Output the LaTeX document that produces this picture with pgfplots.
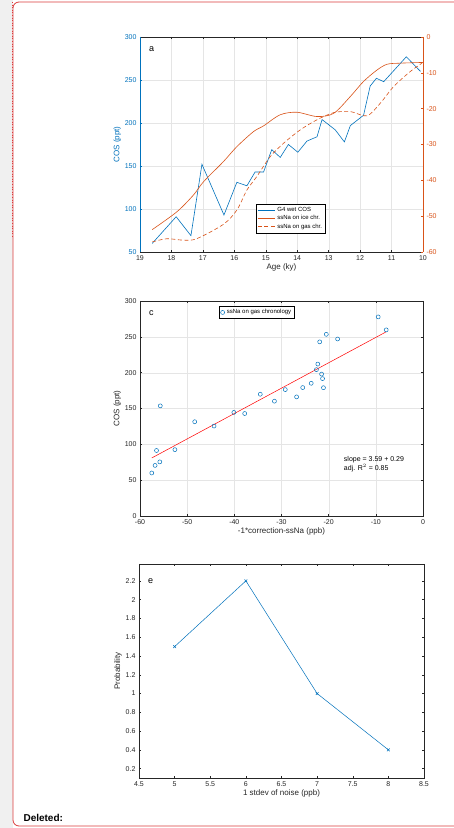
\documentclass[border=0pt]{standalone}
\usepackage{fontspec}
\setmainfont{Liberation Sans}
\usepackage{pgfplots}
\pgfplotsset{compat=1.18}
\definecolor{mblue}{RGB}{0,114,189}
\definecolor{morange}{RGB}{217,83,25}
\definecolor{mgray}{RGB}{38,38,38}
\definecolor{framered}{RGB}{220,60,60}
\begin{document}
\begin{tikzpicture}
\useasboundingbox (0pt,0pt) rectangle (454pt,828pt);
\fill[white] (0pt,0pt) rectangle (454pt,828pt);
\fill[gray!12] (0pt,0pt) rectangle (13pt,828pt);
\draw[framered,line width=0.8pt,rounded corners=6pt] (13pt,2pt) rectangle (470pt,826pt);
\draw[framered,dotted,line width=0.6pt] (12pt,826pt) -- (12pt,590pt);
\node[anchor=west,font=\bfseries\fontsize{10}{12}\selectfont] at (20pt,10pt) {Deleted:};
\pgfplotsset{
  every axis/.append style={scale only axis,width=283pt,height=215pt,
    tick label style={font=\fontsize{7}{8}\selectfont,text=mgray},
    label style={font=\fontsize{8}{9}\selectfont,text=mgray},
    /pgf/number format/assume math mode=true,
    tick align=inside, major tick length=2pt, axis line style={mgray,line width=0.4pt},
    tick style={mgray,line width=0.4pt}},
}
% panel a
\begin{axis}[at={(140pt,576pt)},anchor=south west,
  x dir=reverse, xmin=10, xmax=19, ymin=50, ymax=300,
  xtick={10,...,19}, ytick={50,100,...,300},
  grid=major, grid style={gray!20,line width=0.3pt},
  axis y line*=left, axis x line*=box,
  y axis line style={mblue}, ytick style={mblue},
  yticklabel style={text=mblue},
  xlabel={Age (ky)}, ylabel={COS (ppt)}, ylabel style={text=mblue},
  xlabel style={yshift=4pt}, ylabel style={yshift=-3pt}]
\addplot[mblue,line width=0.6pt] coordinates {
(18.61,60)(17.85,91)(17.38,69)(17.03,152)(16.33,93)(15.92,131)(15.6,127)(15.34,143)(15.07,143)(14.81,169)(14.54,160)(14.28,175)(13.98,166)(13.69,179)(13.37,184)(13.21,204)(12.79,192)(12.5,178)(12.31,197)(11.89,209)(11.68,243)(11.48,252)(11.25,248)(10.53,277)(10.08,260)};
\node[anchor=north west,font=\fontsize{9}{10}\selectfont] at (rel axis cs:0.02,0.97) {a};
\end{axis}
\begin{axis}[at={(140pt,576pt)},anchor=south west,
  x dir=reverse, xmin=10, xmax=19, ymin=-60, ymax=0,
  axis y line*=right, axis x line=none,
  ytick={-60,-50,...,0},
  y axis line style={morange}, ytick style={morange},
  yticklabel style={text=morange},
  legend style={at={(rel axis cs:0.41,0.225)},anchor=north west,
    font=\fontsize{6}{7}\selectfont,line width=0.3pt,
    row sep=-1.5pt, inner sep=1.5pt},
  legend cell align=left]
\addlegendimage{mblue,line width=0.6pt}\addlegendentry{G4 wet COS}
\addplot[morange,line width=0.6pt,smooth] coordinates {
(18.61,-53.75)(17.83,-48.8)(17.3,-44.1)(16.98,-40.4)(16.35,-34.8)(15.92,-30.6)(15.39,-26.4)(15.07,-24.8)(14.54,-21.7)(14.01,-21.0)(13.37,-22.2)(12.84,-21.3)(12.31,-16.6)(11.89,-12.4)(11.46,-9.2)(11.14,-7.6)(10.72,-7.3)(10.0,-7.1)};
\addlegendentry{ssNa on ice chr.}
\addplot[morange,line width=0.6pt,smooth,dash pattern=on 4pt off 2.5pt] coordinates {
(18.61,-57.2)(18.15,-56.3)(17.62,-56.7)(17.2,-56.3)(16.35,-52.3)(15.92,-48.3)(15.6,-42.7)(15.29,-39.0)(14.86,-33.4)(14.44,-29.7)(13.9,-25.9)(13.37,-23.1)(12.84,-21.1)(12.31,-20.8)(11.78,-22.0)(11.36,-18.5)(10.93,-13.8)(10.4,-9.6)(10.03,-7.3)};
\addlegendentry{ssNa on gas chr.}
\end{axis}
% panel c
\begin{axis}[at={(140pt,312pt)},anchor=south west,
  xmin=-60, xmax=0, ymin=0, ymax=300,
  xtick={-60,-50,...,0}, ytick={0,50,...,300},
  grid=major, grid style={gray!20,line width=0.3pt},
  xlabel={-1*correction-ssNa (ppb)}, ylabel={COS (ppt)},
  xlabel style={yshift=4pt}, ylabel style={yshift=-3pt},
  legend style={at={(rel axis cs:0.28,0.975)},anchor=north west,
    font=\fontsize{6}{7}\selectfont,line width=0.3pt, inner sep=1pt},
  legend image code/.code={\draw[#1] (0.25cm,0cm) circle (2pt);}]
\addplot[only marks,mark=o,mark size=2pt,mblue,line width=0.5pt] coordinates {
(-57.5,60)(-56.8,70.6)(-56.5,91.4)(-55.8,75.5)(-55.7,153.7)(-52.6,92.6)(-48.4,131.5)(-44.3,125.5)(-40.1,144.5)(-37.8,143)(-34.5,169.9)(-31.5,160.2)(-29.2,176.4)(-26.8,166.2)(-25.5,179.2)(-23.7,185.2)(-22.6,204.2)(-22.3,212)(-21.9,243)(-21.5,198)(-21.3,191.7)(-21.1,179)(-20.5,253.5)(-18.1,247)(-9.5,277.8)(-7.8,259.7)};
\addlegendentry{ssNa on gas chronology}
\addplot[red,line width=0.5pt,forget plot] coordinates {(-57.5,81)(-7.8,257)};
\node[anchor=north west,font=\fontsize{9}{10}\selectfont] at (rel axis cs:0.02,0.97) {c};
\node[anchor=west,font=\fontsize{7}{8}\selectfont,align=left] at (axis cs:-17.5,72) {slope = 3.59 + 0.29\\[1pt] adj. R$^2$ = 0.85};
\end{axis}
% panel e
\begin{axis}[at={(139pt,50pt)},anchor=south west, height=214pt, width=285pt,
  xmin=4.5, xmax=8.5, ymin=0.1, ymax=2.38,
  xtick={4.5,5,...,8.5}, ytick={0.2,0.4,...,2.2},
  yticklabel style={/pgf/number format/fixed,/pgf/number format/precision=1},
  xlabel={1 stdev of noise (ppb)}, ylabel={Probability},
  xlabel style={yshift=4pt}, ylabel style={yshift=-3pt}]
\addplot[mblue,mark=x,mark size=2pt,line width=0.5pt] coordinates {(5,1.5)(6,2.2)(7,1.0)(8,0.4)};
\node[anchor=north west,font=\fontsize{9}{10}\selectfont] at (rel axis cs:0.02,0.95) {e};
\node[anchor=south west,font=\fontsize{6}{7}\selectfont,text=mgray,inner sep=1pt] at (rel axis cs:0,1) {$\times10^{-3}$};
\end{axis}
\end{tikzpicture}
\end{document}
